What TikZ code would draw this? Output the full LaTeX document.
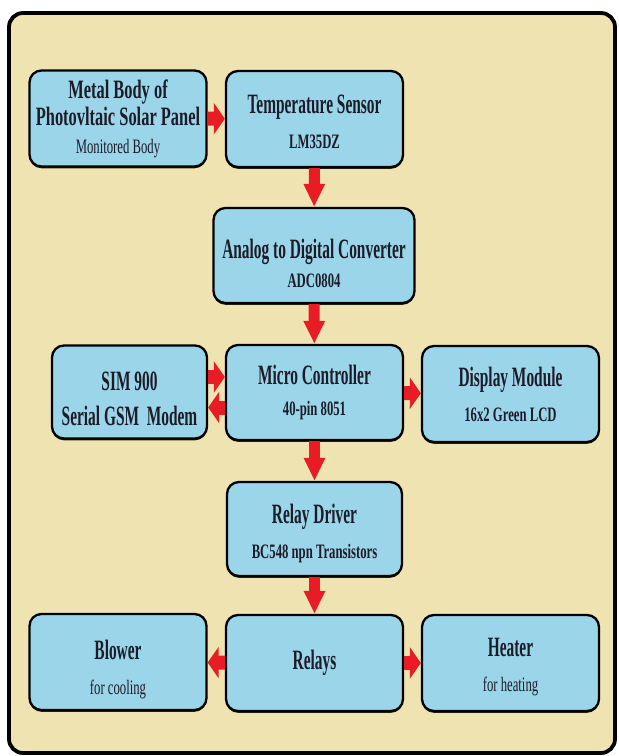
\documentclass[tikz,border=0pt]{standalone}
\usepackage{fontspec}
\setmainfont{Liberation Serif}[FakeStretch=0.55]
\newfontfamily\subfam{Liberation Serif}[FakeStretch=0.62]
\usetikzlibrary{arrows.meta, shadows}
\definecolor{panelbeige}{RGB}{240,227,178}
\definecolor{boxblue}{RGB}{155,213,234}
\definecolor{arrowred}{RGB}{232,28,36}
\definecolor{inkdark}{RGB}{28,28,40}
\newcommand{\ttlfont}{\bfseries\fontsize{28}{35}\selectfont}
\newcommand{\subbf}{\subfam\bfseries\fontsize{20.5}{35}\selectfont}
\newcommand{\subrm}{\subfam\mdseries\fontsize{20.5}{35}\selectfont}
\tikzset{
    blk/.style={draw=black, line width=2.3pt, rounded corners=12pt, fill=boxblue,
        drop shadow={shadow xshift=0pt, shadow yshift=-1.8pt, fill=black, opacity=0.85},
        minimum width=177pt, minimum height=96pt, inner sep=0pt, align=center,
        text=inkdark, font=\ttlfont},
    harrow/.style={draw=arrowred, line width=14pt, -{Triangle[length=11pt,width=31pt]}},
    varrow/.style={draw=arrowred, line width=11pt, -{Triangle[length=23pt,width=20pt]}},
}

\begin{document}
\begin{tikzpicture}[x=1pt, y=-1pt]
    \useasboundingbox (0,0) rectangle (619,756);
    \draw[line width=3.8pt, rounded corners=14pt, fill=panelbeige] (9,13) rectangle (615,753);

    % blocks
    \node[blk, font=\subfam\bfseries\fontsize{26.5}{27.5}\selectfont] (metal) at (118,118.5)
        {Metal Body of\\Photovltaic Solar Panel\\{\subrm Monitored Body}};
    \node[blk, text height=59pt] (temp) at (314.5,119) {Temperature Sensor\\{\subbf LM35DZ}};
    \node[blk, minimum width=201pt, minimum height=95pt, text height=64pt,
        font=\bfseries\fontsize{28}{29}\selectfont]
        (adc) at (314,255.5) {Analog to Digital Converter\\{\subbf ADC0804}};
    \node[blk, minimum width=155pt, minimum height=93pt, text height=67pt] (sim) at (129.5,392)
        {SIM 900\\Serial GSM\ \ Modem};
    \node[blk, minimum height=95pt, font=\bfseries\fontsize{28}{31}\selectfont] (mc) at (314.5,392.5)
        {Micro Controller\\{\subbf 40-pin 8051}};
    \node[blk] (disp) at (510.5,394) {Display Module\\{\subbf 16x2 Green LCD}};
    \node[blk, minimum width=175pt, minimum height=94pt, text height=63pt] (drv) at (314.5,529)
        {Relay Driver\\{\subbf BC548 npn Transistors}};
    \node[blk, text height=69pt] (blower) at (118,662) {Blower\\{\subrm for cooling}};
    \node[blk] (relays) at (314.5,663) {Relays};
    \node[blk, text height=61pt] (heater) at (510.5,663) {Heater\\{\subrm for heating}};

    % connectors
    \draw[harrow] (metal) -- (temp);
    \draw[varrow] (temp) -- (adc);
    \draw[varrow] (adc) -- (mc);
    \draw[harrow] ([yshift=15pt]sim.east) -- ([yshift=15pt]sim.east -| mc.west);
    \draw[harrow] ([yshift=-15pt]mc.west) -- ([yshift=-15pt]mc.west -| sim.east);
    \draw[harrow] (mc) -- (disp);
    \draw[varrow] (mc) -- (drv);
    \draw[varrow] (drv) -- (relays);
    \draw[harrow] (relays) -- (blower);
    \draw[harrow] (relays) -- (heater);
\end{tikzpicture}
\end{document}
